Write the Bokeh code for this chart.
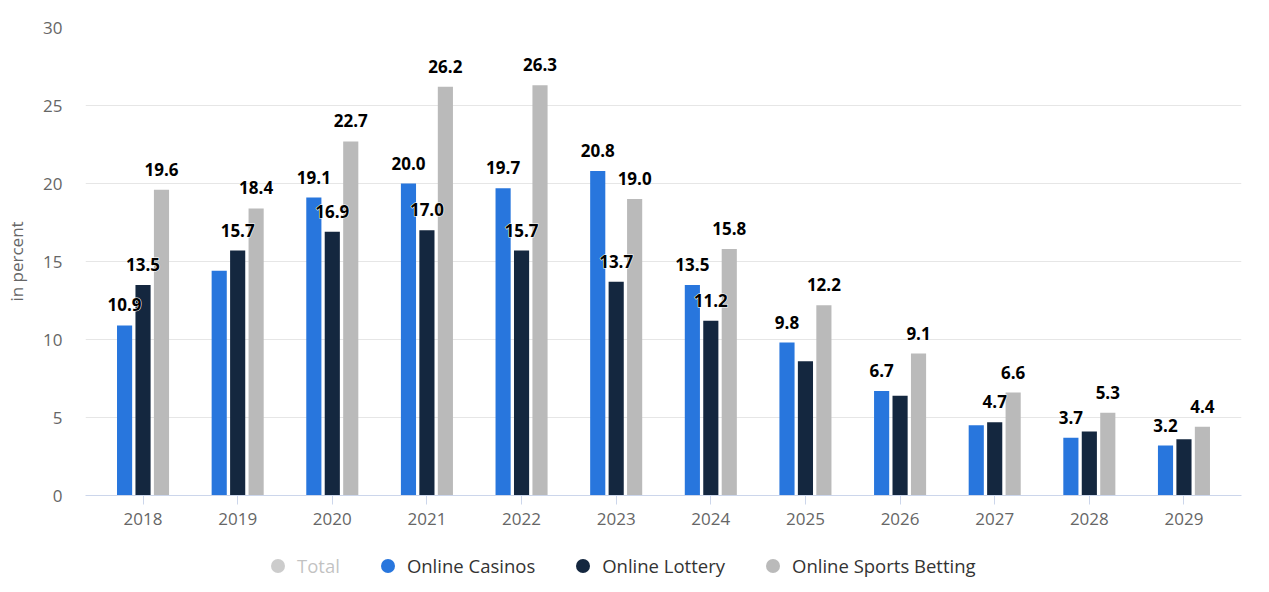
from bokeh.plotting import figure
from bokeh.layouts import column
from bokeh.models import (ColumnDataSource, FactorRange, Range1d, Legend, LegendItem,
                          FixedTicker)
from bokeh.transform import dodge
from bokeh.core.properties import value
from bokeh.embed import file_html
from bokeh.resources import INLINE

years = ["2018", "2019", "2020", "2021", "2022", "2023",
         "2024", "2025", "2026", "2027", "2028", "2029"]
online_casinos = [10.9, 14.4, 19.1, 20.0, 19.7, 20.8, 13.5, 9.8, 6.7, 4.5, 3.7, 3.2]
online_lottery = [13.5, 15.7, 16.9, 17.0, 15.7, 13.7, 11.2, 8.6, 6.4, 4.7, 4.1, 3.6]
online_sports_betting = [19.6, 18.4, 22.7, 26.2, 26.3, 19.0, 15.8, 12.2, 9.1, 6.6, 5.3, 4.4]
# "Total" is a hidden series in the original: its values are not shown
total = [float("nan")] * 12
# data labels that are displayed in the original (others hidden due to overlap)
casinos_label_shown = [1, 0, 1, 1, 1, 1, 1, 1, 1, 0, 1, 1]
lottery_label_shown = [1, 1, 1, 1, 1, 1, 1, 0, 0, 1, 0, 0]
sports_label_shown = [1, 1, 1, 1, 1, 1, 1, 1, 1, 1, 1, 1]
y_ticks = [0, 5, 10, 15, 20, 25, 30]
series_names = ["Total", "Online Casinos", "Online Lottery", "Online Sports Betting"]

FONT = "Open Sans"
C_TOT = "#555555"
C_CAS = "#2876dd"
C_LOT = "#14273f"
C_SPO = "#bababa"

p = figure(width=1261, height=540, x_range=FactorRange(*years, range_padding=0.018),
           y_range=Range1d(0, 30), output_backend="svg", toolbar_location=None,
           min_border_left=85, min_border_right=20, min_border_top=27, min_border_bottom=45)
p.outline_line_color = None
p.background_fill_color = "white"
p.border_fill_color = "white"

src = ColumnDataSource(dict(year=years, tot=total, cas=online_casinos, lot=online_lottery,
                            spo=online_sports_betting))
W = 0.16
OFF = 0.195
p.vbar(x=dodge("year", -OFF, range=p.x_range), top="cas", width=W, source=src,
       fill_color=C_CAS, line_color=None)
p.vbar(x=dodge("year", 0, range=p.x_range), top="lot", width=W, source=src,
       fill_color=C_LOT, line_color=None)
p.vbar(x=dodge("year", OFF, range=p.x_range), top="spo", width=W, source=src,
       fill_color=C_SPO, line_color=None)


def label_source(vals, shown):
    ys = [y for y, s in zip(years, shown) if s]
    vs = [v for v, s in zip(vals, shown) if s]
    return ColumnDataSource(dict(year=ys, val=vs, txt=["%.1f" % v for v in vs]))


label_sets = [(online_casinos, casinos_label_shown, -OFF),
              (online_lottery, lottery_label_shown, 0),
              (online_sports_betting, sports_label_shown, OFF)]
# white halo behind the labels, then the labels themselves
for halo in (True, False):
    for vals, shown, off in label_sets:
        ls = label_source(vals, shown)
        kw = dict(x=dodge("year", off, range=p.x_range), y="val", text="txt", source=ls,
                  text_align="center", text_baseline="bottom", y_offset=-14,
                  text_font=value(FONT), text_font_size="17px", text_font_style="bold")
        if halo:
            p.text(text_color="white", text_outline_color="white", **kw)
        else:
            p.text(text_color="#000000", **kw)

# axes
p.xgrid.visible = False
p.ygrid.ticker = FixedTicker(ticks=y_ticks)
p.ygrid.grid_line_color = "#e6e6e6"
p.ygrid.grid_line_width = 1

p.yaxis.ticker = FixedTicker(ticks=y_ticks)
p.yaxis.axis_line_color = None
p.yaxis.major_tick_line_color = None
p.yaxis.minor_tick_line_color = None
p.yaxis.major_tick_out = 0
p.yaxis.major_tick_in = 0
p.yaxis.major_label_standoff = 23
p.yaxis.major_label_text_font = FONT
p.yaxis.major_label_text_font_size = "17px"
p.yaxis.major_label_text_color = "#666666"
p.yaxis.axis_label = "in percent"
p.yaxis.axis_label_text_font = FONT
p.yaxis.axis_label_text_font_size = "17px"
p.yaxis.axis_label_text_font_style = "normal"
p.yaxis.axis_label_text_color = "#666666"
p.yaxis.axis_label_standoff = 12

p.xaxis.axis_line_color = "#ccd6eb"
p.xaxis.major_tick_line_color = "#ccd6eb"
p.xaxis.major_tick_out = 9
p.xaxis.major_tick_in = 0
p.xaxis.minor_tick_line_color = None
p.xaxis.major_label_standoff = 8
p.xaxis.major_label_text_font = FONT
p.xaxis.major_label_text_font_size = "17px"
p.xaxis.major_label_text_color = "#666666"

# legend in its own strip below the chart (circle markers like the original);
# the proxy points lie outside the strip's y range, so only the legend shows
lg = figure(width=1261, height=44, x_range=FactorRange(*years), y_range=Range1d(100, 101),
            output_backend="svg", toolbar_location=None,
            min_border_left=0, min_border_right=0, min_border_top=0, min_border_bottom=0)
lg.axis.visible = False
lg.grid.visible = False
lg.outline_line_color = None
r_total = lg.scatter(x="year", y="tot", source=src, size=14, fill_color=C_TOT,
                     line_color=None, visible=False)
r_cas = lg.scatter(x="year", y="cas", source=src, size=14, fill_color=C_CAS, line_color=None)
r_lot = lg.scatter(x="year", y="lot", source=src, size=14, fill_color=C_LOT, line_color=None)
r_spo = lg.scatter(x="year", y="spo", source=src, size=14, fill_color=C_SPO, line_color=None)

legend = Legend(items=[LegendItem(label=series_names[0], renderers=[r_total], index=0),
                       LegendItem(label=series_names[1], renderers=[r_cas], index=0),
                       LegendItem(label=series_names[2], renderers=[r_lot], index=0),
                       LegendItem(label=series_names[3], renderers=[r_spo], index=0)],
                orientation="horizontal", location=(175, 1), click_policy="hide",
                glyph_width=35, glyph_height=35, label_standoff=2, spacing=30,
                padding=0, margin=0, border_line_color=None, background_fill_alpha=0,
                label_text_font=FONT, label_text_font_size="18.5px",
                label_text_color="#333333", inactive_fill_color="white",
                inactive_fill_alpha=0.7)
lg.add_layout(legend)

layout = column(p, lg, spacing=0)
open("out.html", "w").write(file_html(layout, INLINE))
